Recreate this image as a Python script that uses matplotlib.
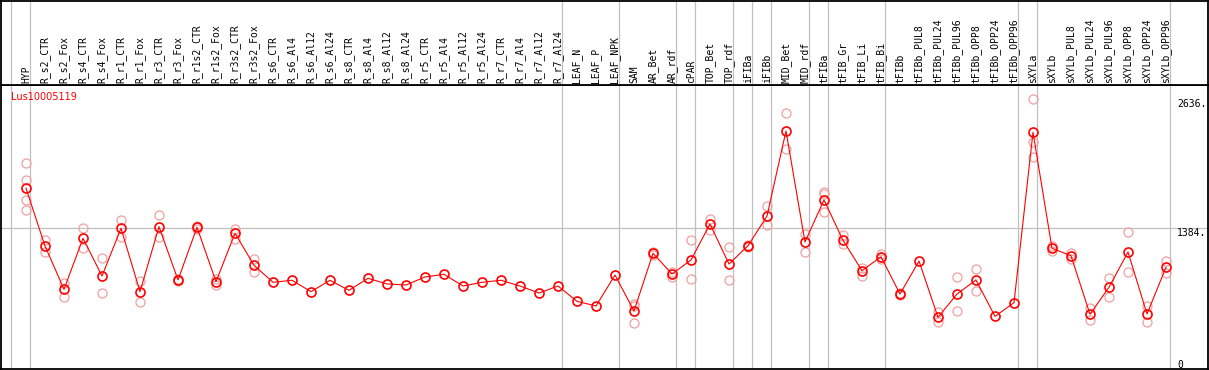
import matplotlib.pyplot as plt

# samples (x order)
samples = ['HYP', 'R_s2_CTR', 'R_s2_Fox', 'R_s4_CTR', 'R_s4_Fox', 'R_r1_CTR', 'R_r1_Fox',
           'R_r3_CTR', 'R_r3_Fox', 'R_r1s2_CTR', 'R_r1s2_Fox', 'R_r3s2_CTR', 'R_r3s2_Fox',
           'R_s6_CTR', 'R_s6_Al4', 'R_s6_Al12', 'R_s6_Al24', 'R_s8_CTR', 'R_s8_Al4', 'R_s8_Al12',
           'R_s8_Al24', 'R_r5_CTR', 'R_r5_Al4', 'R_r5_Al12', 'R_r5_Al24', 'R_r7_CTR', 'R_r7_Al4',
           'R_r7_Al12', 'R_r7_Al24', 'LEAF_N', 'LEAF_P', 'LEAF_NPK', 'SAM', 'AR_Bet', 'AR_rdf',
           'cPAR', 'TOP_Bet', 'TOP_rdf', 'iFIBa', 'iFIBb', 'MID_Bet', 'MID_rdf', 'tFIBa',
           'tFIB_Gr', 'tFIB_Li', 'tFIB_Bi', 'tFIBb', 'tFIBb_PUL8', 'tFIBb_PUL24', 'tFIBb_PUL96',
           'tFIBb_OPP8', 'tFIBb_OPP24', 'tFIBb_OPP96', 'sXYLa', 'sXYLb', 'sXYLb_PUL8',
           'sXYLb_PUL24', 'sXYLb_PUL96', 'sXYLb_OPP8', 'sXYLb_OPP24', 'sXYLb_OPP96']

# mean expression per sample
means = [1768, 1206, 785, 1281, 914, 1378, 762, 1394, 876, 1388, 859, 1330, 1019,
         853, 873, 762, 873, 775, 892, 837, 827, 905, 931, 817, 853, 873, 817, 749, 817,
         668, 623, 924, 574, 1135, 934, 1070, 1420, 1031, 1209, 1498, 2325, 1245,
         1654, 1262, 966, 1102, 739, 1060, 513, 739, 876, 522, 655,
         2312, 1184, 1112, 542, 805, 1148, 545, 999]

# replicates per sample (empty = single value)
reps = [[2011, 1845, 1651, 1554], [1265, 1151], [849, 713], [1378, 1190], [1087, 746],
        [1459, 1291], [866, 664], [1505, 1291], [890, 862], [1400, 1376], [888, 830],
        [1375, 1274], [1080, 956],
        [], [], [], [], [], [], [], [], [], [], [], [], [], [], [], [],
        [], [], [],
        [626, 457, 639], [1150, 1120], [956, 908], [1265, 882], [1472, 1362], [1197, 873],
        [1220, 1198], [1595, 1408], [2497, 2150], [1323, 1151],
        [1735, 1712, 1534], [1313, 1226], [995, 917], [1125, 1079],
        [748, 730], [], [567, 464], [902, 574], [983, 769], [], [],
        [2636, 2221, 2069], [1206, 1161], [1135, 1077], [600, 486], [892, 707],
        [1340, 950], [623, 464], [1060, 941]]

# group separators (before these sample indices)
seps = [0, 1, 29, 32, 35, 36, 38, 39, 40, 42, 43, 46, 53, 54, 61]

gene = 'Lus10005119'
ytick_vals = [2636, 1384, 0]
ytick_labels = ['2636.', '1384.', '0']

W, H = 1209, 370
fig = plt.figure(figsize=(W / 100, H / 100), dpi=100)

# plot area and header area in pixel terms
left, right = 1, 1208
top_plot, bottom_plot = 85, 369
ax = fig.add_axes([left / W, 1 - bottom_plot / H, (right - left) / W, (bottom_plot - top_plot) / H])
hd = fig.add_axes([left / W, 1 - top_plot / H, (right - left) / W, (top_plot - 0.6) / H], sharex=ax)

x = list(range(len(samples)))
xlo = (left - 26) / 19
xhi = (right - 26) / 19
ax.set_xlim(xlo, xhi)
ax.set_ylim(10, 2772)
hd.set_ylim(0, 1)

for a in (ax, hd):
    for s in a.spines.values():
        s.set_color('black')
        s.set_linewidth(1.3)
    a.set_xticks([])
    a.set_yticks([])
    for s in seps:
        a.axvline(s - 0.8, color='#c0c0c0', lw=0.9, zorder=0)

ax.axhline(1384, color='#c0c0c0', lw=0.9, zorder=0)

# replicates
for i, r in enumerate(reps):
    if r:
        ax.plot([i] * len(r), r, 'o', ms=6.5, mfc='none', mec='#f0a0a0', mew=0.9, zorder=2)

# mean line
ax.plot(x, means, '-', color='red', lw=0.8, zorder=3)
ax.plot(x, means, 'o', ms=6.5, mfc='none', mec='red', mew=1.2, zorder=4)

ax.text(10 / (right - left), 1 - 12 / (bottom_plot - top_plot), gene, transform=ax.transAxes,
        color='red', fontsize=7, fontfamily='DejaVu Sans', va='center', ha='left')

# y labels on the right
xt = (1177 - left) / (right - left)
for v, lab in zip(ytick_vals, ytick_labels):
    if v == 0:
        ax.text(xt, 4 / (bottom_plot - top_plot), lab, transform=ax.get_yaxis_transform(),
                fontsize=7, fontfamily='DejaVu Sans Mono', va='bottom', ha='left')
    else:
        ax.text(xt, v, lab, transform=ax.get_yaxis_transform(), fontsize=7,
                fontfamily='DejaVu Sans Mono', va='top', ha='left')

# sample names in header
for i, s in enumerate(samples):
    hd.text(i, 2.5 / 85, s, rotation=90, ha='center', va='bottom', fontsize=7,
            fontfamily='DejaVu Sans Mono')

fig.savefig('out.png', dpi=100)
